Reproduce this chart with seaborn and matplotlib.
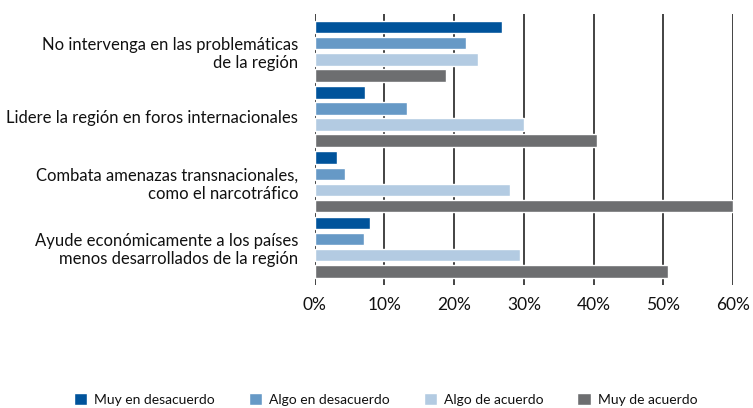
import pandas as pd
import matplotlib.pyplot as plt
import seaborn as sns
from matplotlib.patches import Patch

# Survey answers, % per statement
categorias = ['No intervenga en las problemáticas\nde la región',
              'Lidere la región en foros internacionales',
              'Combata amenazas transnacionales,\ncomo el narcotráfico',
              'Ayude económicamente a los países\nmenos desarrollados de la región']
series = ['Muy en desacuerdo', 'Algo en desacuerdo', 'Algo de acuerdo', 'Muy de acuerdo']
muy_desacuerdo = [26.8, 7.2, 3.2, 7.9]
algo_desacuerdo = [21.7, 13.3, 4.3, 7.0]
algo_acuerdo = [23.4, 30.0, 28.0, 29.4]
muy_acuerdo = [18.8, 40.5, 60.0, 50.7]
colores = ['#00539b', '#6699c6', '#b3cbe2', '#6d6e70']
ticks = [0, 10, 20, 30, 40, 50, 60]

rows = []
for s, vals in zip(series, [muy_desacuerdo, algo_desacuerdo, algo_acuerdo, muy_acuerdo]):
    for c, v in zip(categorias, vals):
        rows.append({'categoria': c, 'serie': s, 'valor': v})
df = pd.DataFrame(rows)

sns.set_style('white')
plt.rcParams['font.family'] = ['Lato', 'DejaVu Sans']
plt.rcParams['text.color'] = '#111111'
plt.rcParams['xtick.color'] = '#111111'
plt.rcParams['ytick.color'] = '#111111'

fig = plt.figure(figsize=(7.53, 4.08), dpi=100)
ax = fig.add_axes([0.418, 0.3015, 0.5554, 0.6642])

sns.barplot(data=df, x='valor', y='categoria', hue='serie', hue_order=series,
            palette=colores, orient='h', width=0.985, gap=0.22,
            saturation=1, legend=False, ax=ax)

for t in ticks:
    ax.axvline(t, color='#222222', lw=1.2, zorder=0)

ax.set_xlim(0, 60)
ax.set_ylim(3.58, -0.57)
ax.set_xticks(ticks)
ax.set_xticklabels([f'{t}%' for t in ticks], fontsize=12.5)
ax.tick_params(axis='y', labelsize=12, pad=12, length=0)
ax.tick_params(axis='x', pad=9, length=0)
for lab in ax.get_yticklabels():
    lab.set_linespacing(1.2)
ax.set_xlabel('')
ax.set_ylabel('')
for sp in ax.spines.values():
    sp.set_visible(False)

handles = [Patch(facecolor=c, label=s) for c, s in zip(colores, series)]
fig.legend(handles=handles, loc='center', bbox_to_anchor=(0.512, 0.02), ncol=4,
           frameon=False, fontsize=10, handlelength=0.95, handleheight=0.95,
           columnspacing=2.45, handletextpad=0.5)

fig.savefig('out.png', dpi=100)
